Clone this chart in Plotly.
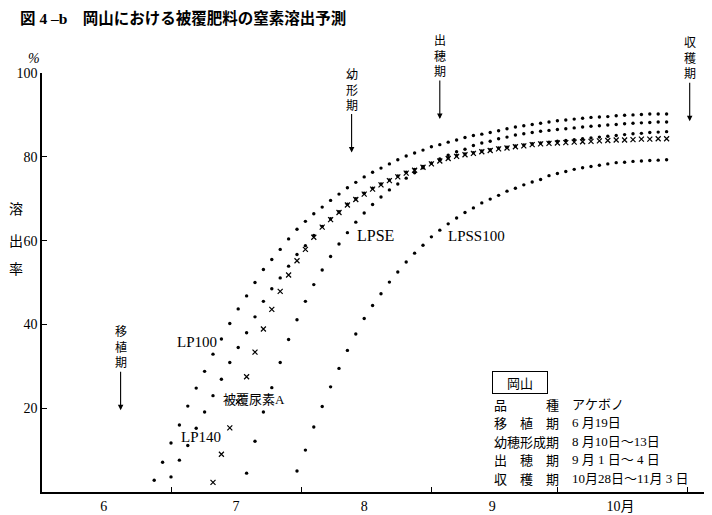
import plotly.graph_objects as go

# ---------------------------------------------------------------
# Data (x = days after 1 June, sampled every 2 days; y = % released)
# ---------------------------------------------------------------
lp100_start = 26
lp100 = [2.8, 7.1, 11.7, 16.0, 20.5, 24.8, 28.8, 32.9, 36.5, 40.2,
         43.7, 46.8, 50.0, 53.1, 55.5, 57.9, 60.4, 62.7, 64.6, 66.4,
         68.0, 69.6, 71.1, 72.6, 73.9, 75.2, 76.3, 77.3, 78.3, 79.3,
         80.2, 80.9, 81.6, 82.4, 82.9, 83.5, 84.0, 84.6, 85.1, 85.4,
         85.8, 86.2, 86.7, 87.1, 87.4, 87.7, 88.0, 88.3, 88.6, 88.8,
         89.0, 89.2, 89.4, 89.5, 89.6, 89.8, 89.9, 90.0, 90.1, 90.2,
         90.2, 90.2]

lp140_start = 30
lp140 = [3.6, 7.6, 11.1, 15.2, 19.1, 23.0, 26.9, 30.9, 34.5, 38.0,
         41.8, 45.5, 48.5, 51.1, 53.9, 56.7, 58.8, 61.2, 63.4, 65.2,
         66.9, 68.7, 70.0, 71.3, 72.5, 73.5, 74.5, 75.4, 76.3, 77.0,
         77.7, 78.5, 79.2, 79.8, 80.3, 80.7, 81.0, 81.4, 81.7, 82.1,
         82.3, 82.6, 82.8, 83.1, 83.3, 83.5, 83.7, 83.9, 84.1, 84.3,
         84.5, 84.7, 84.9, 85.1, 85.3, 85.5, 85.6, 85.8, 85.9, 86.0]

urea_a_start = 40
urea_a = [2.3, 9.0, 15.3, 21.5, 27.5, 33.4, 38.9, 43.6, 47.9, 51.8,
          55.2, 57.9, 60.8, 63.2, 65.0, 66.7, 68.5, 69.8, 71.1, 72.3,
          73.3, 74.3, 75.2, 76.1, 76.8, 77.5, 78.3, 79.0, 79.6, 80.1,
          80.5, 80.8, 81.2, 81.5, 81.9, 82.1, 82.4, 82.6, 82.9, 83.1,
          83.2, 83.3, 83.4, 83.5, 83.6, 83.7, 83.8, 83.9, 84.0, 84.0,
          84.1, 84.2, 84.2, 84.3, 84.3]

lpse_start = 48
lpse = [4.5, 12.1, 19.1, 24.9, 30.9, 36.4, 41.1, 45.5, 49.5, 53.0,
        56.2, 59.2, 61.9, 64.4, 66.6, 68.6, 70.4, 72.1, 73.5, 74.9,
        76.2, 77.4, 78.5, 79.5, 80.4, 81.2, 81.8, 82.7, 83.3, 83.7,
        84.3, 84.7, 85.2, 85.5, 85.8, 86.1, 86.3, 86.5, 86.7, 86.9,
        87.1, 87.3, 87.4, 87.6, 87.7, 87.9, 88.0, 88.1, 88.2, 88.3,
        88.3]

lpss100_start = 60
lpss100 = [5.0, 10.0, 15.5, 20.4, 25.1, 29.5, 33.8, 37.7, 41.4, 44.5,
           47.3, 50.1, 52.5, 54.9, 57.0, 58.9, 60.9, 62.5, 64.0, 65.4,
           66.7, 67.8, 69.0, 69.9, 70.8, 71.8, 72.5, 73.3, 74.0, 74.6,
           75.5, 76.0, 76.5, 77.0, 77.4, 77.7, 78.0, 78.3, 78.6, 78.7,
           78.9, 79.0, 79.1, 79.2, 79.3]

month_starts = [30, 61, 92, 122, 153]
month_mids = [14, 45.5, 76, 106.5, 137]
month_labels = ["6", "7", "8", "9", "10月"]

y_ticks = [20, 40, 60, 80, 100]

# growth stages: label, day, arrow tip (%)
stage_names = ["移植期", "幼形期", "出穂期", "収穫期"]
stage_days = [18, 73, 94, 153.5]
stage_tips = [19.5, 81, 89, 88.5]

info_keys = ["品　　　種", "移　植　期", "幼穂形成期", "出　穂　期", "収　穫　期"]
info_vals = ["アケボノ", "6 月19日", "8 月10日～13日", "9 月 1 日～ 4 日", "10月28日～11月 3 日"]

# ---------------------------------------------------------------
# Layout helpers (pixel positions are page positions; the page body
# has an 8px margin, so the figure itself is offset by OFF)
# ---------------------------------------------------------------
OFF = 8
W, H = 712 - OFF, 515 - OFF
L, R, T, B = 42, 705, 73, 492
PX_PER_DAY = 4.2
DAY0_PX = 45

SERIF = "Liberation Serif, Noto Sans CJK JP"
JP = "Noto Sans CJK JP"


def paper(px, py):
    return (px - L) / (R - L), (B - py) / (B - T)


def days(start, vals):
    return [start + 2 * i for i in range(len(vals))]


def label(px, py, text, family, size, xanchor="center", **kw):
    x0, y0 = paper(px, py)
    return dict(x=x0, y=y0, xref="paper", yref="paper", xanchor=xanchor,
                yanchor="middle", text=text, showarrow=False,
                font=dict(family=family, size=size, color="black"), **kw)


fig = go.Figure()

dot_marker = dict(symbol="circle", size=3.4, color="black")
for name, start, vals in [("LP100", lp100_start, lp100),
                          ("LP140", lp140_start, lp140),
                          ("LPSE", lpse_start, lpse),
                          ("LPSS100", lpss100_start, lpss100)]:
    fig.add_trace(go.Scatter(x=days(start, vals), y=vals, mode="markers",
                             marker=dot_marker, name=name, showlegend=False))

fig.add_trace(go.Scatter(x=days(urea_a_start, urea_a), y=urea_a, mode="markers",
                         marker=dict(symbol="x-thin", size=5,
                                     line=dict(width=1.2, color="black")),
                         name="被覆尿素A", showlegend=False))

# ---------------------------------------------------------------
# Text
# ---------------------------------------------------------------
ann = []

ann.append(label(18, 18, "<b>図 4 –b　岡山における被覆肥料の窒素溶出予測</b>",
                 SERIF, 15.5, xanchor="left"))

ann.append(label(34, 58, "<i>%</i>", SERIF, 14))
for ch, py in zip("溶出率", [208, 240, 268]):
    ann.append(label(16, py, ch, JP, 14))

for txt, px, py, sz in [("LP100", 197, 342, 15),
                        ("LP140", 201, 437, 15),
                        ("被覆尿素A", 254, 399, 13),
                        ("LPSE", 375, 235, 16),
                        ("LPSS100", 476, 236, 15)]:
    ann.append(label(px, py, txt, SERIF, sz))

for name, d, tip in zip(stage_names, stage_days, stage_tips):
    ann.append(dict(x=d, y=tip, xref="x", yref="y", text="<br>".join(name),
                    font=dict(family=JP, size=12, color="black"),
                    showarrow=True, arrowhead=2, arrowsize=1, arrowwidth=1.1,
                    arrowcolor="black", ax=0, ay=-64, standoff=0))

ann.append(label(520, 382, "岡山", JP, 13, bordercolor="black",
                 borderwidth=1, borderpad=1, width=52))
for i, (k, v) in enumerate(zip(info_keys, info_vals)):
    py = 404 + i * 18.5
    ann.append(label(492, py, k, JP, 13, xanchor="left"))
    ann.append(label(570, py, v, SERIF, 13, xanchor="left"))

fig.update_layout(
    width=W, height=H,
    margin=dict(l=L - OFF, r=712 - R, t=T - OFF, b=515 - B, autoexpand=False),
    paper_bgcolor="white", plot_bgcolor="white",
    annotations=ann,
    xaxis=dict(range=[(L - DAY0_PX) / PX_PER_DAY, (R - DAY0_PX) / PX_PER_DAY],
               automargin=False,
               tickmode="array", tickvals=month_mids, ticktext=month_labels,
               ticks="", showgrid=False, zeroline=False,
               showline=True, linecolor="black", linewidth=1.5,
               tickfont=dict(family=SERIF, size=14, color="black"),
               minor=dict(tickmode="array", tickvals=month_starts, ticks="inside",
                          ticklen=5, tickcolor="black", tickwidth=1, showgrid=False)),
    yaxis=dict(range=[0, 100], tickmode="array", tickvals=y_ticks,
               automargin=False,
               ticks="inside", ticklen=5, tickcolor="black", tickwidth=1,
               showgrid=False, zeroline=False,
               showline=True, linecolor="black", linewidth=1.5,
               tickfont=dict(family=SERIF, size=14, color="black")),
)

fig.write_html("out.html")
